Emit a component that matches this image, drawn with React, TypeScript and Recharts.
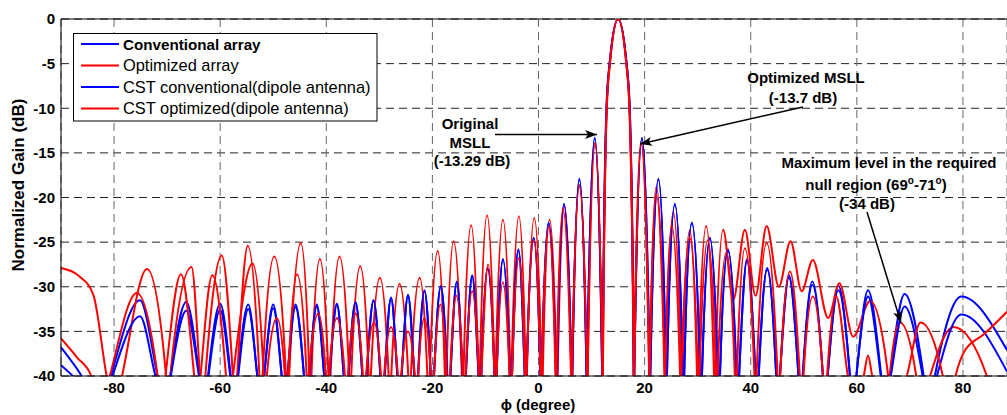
import React from 'react';
import { LineChart, Line, XAxis, YAxis, CartesianGrid, ReferenceLine } from 'recharts';

// phi (degree) / normalized gain (dB) pairs.
// Each deep null is kept as: -40 dB crossing, bottom of the null, -40 dB crossing.
const xTicks = [-80, -60, -40, -20, 0, 20, 40, 60, 80];
const yTicks = [-40, -35, -30, -25, -20, -15, -10, -5, 0];

const conventional: [number, number][] = [
  [-90, -36.8], [-86.1, -40], [-82.4, -44], [-80.6, -40],
  [-75.1, -31.5], [-71.8, -40], [-70.3, -44], [-69.4, -40],
  [-66.4, -31.7], [-63.9, -40], [-63.0, -44], [-62.3, -40],
  [-60.0, -31.9], [-58.0, -40], [-57.3, -44], [-56.7, -40],
  [-54.7, -32.0], [-53.0, -40], [-52.3, -44], [-51.7, -40],
  [-50.0, -32.0], [-48.4, -40], [-47.8, -44], [-47.3, -40],
  [-45.8, -32.0], [-44.2, -40], [-43.7, -44], [-43.2, -40],
  [-41.8, -32.0], [-40.4, -40], [-39.9, -44], [-39.4, -40],
  [-38.0, -31.9], [-36.7, -40], [-36.2, -44], [-35.8, -40],
  [-34.5, -31.7], [-33.2, -40], [-32.8, -44], [-32.4, -40],
  [-31.1, -31.5], [-29.8, -40], [-29.4, -44], [-29.0, -40],
  [-27.8, -31.2], [-26.6, -40], [-26.2, -44], [-25.8, -40],
  [-24.6, -30.9], [-23.4, -40], [-23.0, -44], [-22.7, -40],
  [-21.5, -30.4], [-20.3, -40], [-20.0, -44], [-19.7, -40],
  [-18.4, -29.9], [-17.2, -40], [-16.9, -44], [-16.6, -40],
  [-15.4, -29.4], [-14.3, -40], [-14.0, -44], [-13.7, -40],
  [-12.5, -28.7], [-11.3, -40], [-11.0, -44], [-10.8, -40],
  [-9.6, -27.9], [-8.3, -40], [-8.1, -44], [-7.9, -40],
  [-6.7, -26.9], [-5.4, -40], [-5.2, -44], [-5.0, -40],
  [-3.8, -25.8], [-2.6, -40], [-2.4, -44], [-2.25, -40],
  [-0.9, -24.5], [0.35, -40], [0.5, -44], [0.6, -40],
  [1.9, -22.8], [3.3, -40], [3.4, -44], [3.5, -40],
  [4.8, -20.7], [6.2, -40], [6.3, -44], [6.35, -40],
  [7.7, -17.9], [9.05, -40], [9.1, -44], [9.15, -40],
  [10.6, -13.3], [12.0, -40], [12.05, -44], [12.08, -40],
  [12.8, -10.2], [13.4, -5.0], [15, 0], [16.6, -5.0], [17.2, -10.2],
  [17.96, -40], [18.0, -44], [18.05, -40],
  [19.5, -13.3], [20.95, -40], [21.0, -44], [21.07, -40],
  [22.6, -17.9], [24.03, -40], [24.1, -44], [24.2, -40],
  [25.7, -20.7], [27.2, -40], [27.3, -44], [27.45, -40],
  [28.9, -22.8], [30.45, -40], [30.6, -44], [30.8, -40],
  [32.3, -24.5], [33.8, -40], [34.0, -44], [34.2, -40],
  [35.7, -25.8], [37.3, -40], [37.5, -44], [37.8, -40],
  [39.3, -26.9], [40.9, -40], [41.2, -44], [41.5, -40],
  [43.1, -27.9], [44.8, -40], [45.1, -44], [45.5, -40],
  [47.2, -28.7], [49.0, -40], [49.4, -44], [49.8, -40],
  [51.6, -29.4], [53.6, -40], [54.0, -44], [54.5, -40],
  [56.5, -29.9], [58.7, -40], [59.2, -44], [59.9, -40],
  [62.1, -30.4], [64.6, -40], [65.3, -44], [66.2, -40],
  [69.0, -30.8], [72.6, -40], [73.5, -44], [74.7, -40],
  [79.7, -31.1], [88.3, -37.1],
];

const optimized: [number, number][] = [
  [-90, -27.9], [-86.4, -28.9], [-83.9, -30.9], [-81.4, -40], [-80.0, -44], [-78.5, -40],
  [-73.8, -28.0], [-70.2, -40], [-69.8, -44], [-69.4, -40],
  [-65.4, -27.8], [-63.8, -40], [-63.3, -44], [-62.8, -40],
  [-59.7, -26.5], [-57.6, -40], [-57.2, -44], [-56.8, -40],
  [-54.8, -25.4], [-52.6, -40], [-52.3, -44], [-52.0, -40],
  [-49.8, -26.6], [-47.6, -40], [-47.3, -44], [-47.0, -40],
  [-44.8, -25.1], [-43.2, -40], [-43.0, -44], [-42.8, -40],
  [-41.2, -26.9], [-39.6, -40], [-39.4, -44], [-39.2, -40],
  [-37.5, -26.6], [-35.7, -40], [-35.5, -44], [-35.3, -40],
  [-33.6, -27.7], [-32.0, -40], [-31.8, -44], [-31.6, -40],
  [-29.9, -29.0], [-28.25, -40], [-28.0, -44], [-27.75, -40],
  [-26.2, -29.7], [-24.55, -40], [-24.3, -44], [-24.05, -40],
  [-22.4, -29.0], [-20.95, -40], [-20.7, -44], [-20.5, -40],
  [-19.0, -26.0], [-17.65, -40], [-17.5, -44], [-17.35, -40],
  [-16.0, -24.9], [-14.45, -40], [-14.3, -44], [-14.15, -40],
  [-12.7, -23.1], [-11.32, -40], [-11.2, -44], [-11.08, -40],
  [-9.7, -22.0], [-8.3, -40], [-8.2, -44], [-8.1, -40],
  [-6.7, -22.5], [-5.3, -40], [-5.2, -44], [-5.1, -40],
  [-3.7, -22.1], [-2.4, -40], [-2.3, -44], [-2.2, -40],
  [-0.8, -22.3], [0.6, -40], [0.7, -44], [0.8, -40],
  [2.1, -22.5], [3.4, -40], [3.5, -44], [3.6, -40],
  [4.9, -21.0], [6.22, -40], [6.3, -44], [6.38, -40],
  [7.7, -18.6], [9.14, -40], [9.2, -44], [9.26, -40],
  [10.6, -13.9], [12.06, -40], [12.1, -44], [12.13, -40],
  [12.85, -10.2], [13.45, -5.0], [15, 0], [16.55, -5.0], [17.15, -10.2],
  [17.92, -40], [17.95, -44], [17.99, -40],
  [19.3, -13.8], [20.86, -40], [20.9, -44], [20.95, -40],
  [22.2, -18.8], [23.83, -40], [23.9, -44], [23.98, -40],
  [25.4, -21.7], [26.9, -40], [27.0, -44], [27.1, -40],
  [28.5, -23.7], [29.88, -40], [30.0, -44], [30.12, -40],
  [31.6, -23.2], [33.08, -40], [33.2, -44], [33.32, -40],
  [34.8, -23.6], [36.7, -31.5], [38.9, -23.6], [40.9, -31.0], [43.0, -23.2], [45.3, -30.0],
  [47.5, -24.9], [49.6, -30.5], [51.7, -27.0], [54.6, -33.5], [56.7, -29.6], [59.3, -35.6],
  [62.5, -31.6], [65.9, -40], [66.05, -44], [66.2, -40],
  [68.1, -34.0], [71.2, -40], [72.0, -44], [73.8, -40],
  [78.2, -34.5], [84.5, -40], [86.5, -44], [88.3, -43],
];

const cstConventional: [number, number][] = [
  [-90, -38.8], [-87.8, -40], [-82.4, -44], [-80.3, -40],
  [-75.1, -33.3], [-72.2, -40], [-70.3, -44], [-69.3, -40],
  [-66.4, -32.7], [-64.0, -40], [-63.0, -44], [-62.2, -40],
  [-60.0, -32.6], [-58.1, -40], [-57.3, -44], [-56.6, -40],
  [-54.7, -32.5], [-53.0, -40], [-52.3, -44], [-51.7, -40],
  [-50.0, -32.4], [-48.4, -40], [-47.8, -44], [-47.3, -40],
  [-45.8, -32.3], [-44.2, -40], [-43.7, -44], [-43.2, -40],
  [-41.8, -32.2], [-40.4, -40], [-39.9, -44], [-39.4, -40],
  [-38.0, -32.0], [-36.7, -40], [-36.2, -44], [-35.8, -40],
  [-34.5, -31.8], [-33.2, -40], [-32.8, -44], [-32.4, -40],
  [-31.1, -31.6], [-29.8, -40], [-29.4, -44], [-29.0, -40],
  [-27.8, -31.3], [-26.6, -40], [-26.2, -44], [-25.8, -40],
  [-24.6, -31.0], [-23.4, -40], [-23.0, -44], [-22.7, -40],
  [-21.5, -30.5], [-20.3, -40], [-20.0, -44], [-19.7, -40],
  [-18.4, -30.0], [-17.2, -40], [-16.9, -44], [-16.6, -40],
  [-15.4, -29.5], [-14.3, -40], [-14.0, -44], [-13.7, -40],
  [-12.5, -28.8], [-11.3, -40], [-11.0, -44], [-10.8, -40],
  [-9.6, -28.0], [-8.3, -40], [-8.1, -44], [-7.9, -40],
  [-6.7, -27.0], [-5.4, -40], [-5.2, -44], [-5.0, -40],
  [-3.8, -25.9], [-2.6, -40], [-2.4, -44], [-2.25, -40],
  [-0.9, -24.6], [0.35, -40], [0.5, -44], [0.6, -40],
  [1.9, -22.9], [3.3, -40], [3.4, -44], [3.5, -40],
  [4.8, -20.8], [6.2, -40], [6.3, -44], [6.35, -40],
  [7.7, -18.0], [9.05, -40], [9.1, -44], [9.15, -40],
  [10.6, -13.4], [12.0, -40], [12.05, -44], [12.08, -40],
  [12.8, -10.2], [13.4, -5.0], [15, 0], [16.6, -5.0], [17.2, -10.2],
  [17.96, -40], [18.0, -44], [18.05, -40],
  [19.5, -13.4], [20.95, -40], [21.0, -44], [21.07, -40],
  [22.6, -18.0], [24.03, -40], [24.1, -44], [24.2, -40],
  [25.7, -20.8], [27.2, -40], [27.3, -44], [27.45, -40],
  [28.9, -22.9], [30.45, -40], [30.6, -44], [30.8, -40],
  [32.3, -24.6], [33.8, -40], [34.0, -44], [34.2, -40],
  [35.7, -26.0], [37.3, -40], [37.5, -44], [37.8, -40],
  [39.3, -27.1], [40.9, -40], [41.2, -44], [41.5, -40],
  [43.1, -28.1], [44.8, -40], [45.1, -44], [45.5, -40],
  [47.2, -29.0], [49.0, -40], [49.4, -44], [49.8, -40],
  [51.6, -29.8], [53.6, -40], [54.0, -44], [54.5, -40],
  [56.5, -30.4], [58.7, -40], [59.2, -44], [59.9, -40],
  [62.1, -31.1], [64.5, -40], [65.3, -44], [66.4, -40],
  [69.0, -32.2], [72.4, -40], [73.5, -44], [75.1, -40],
  [79.7, -33.1], [88.3, -39.5],
];

const cstOptimized: [number, number][] = [
  [-90, -35.8], [-87.0, -37.9], [-84.3, -40], [-82.5, -44], [-80.8, -40],
  [-75.7, -30.7], [-71.8, -40], [-71.0, -44], [-70.3, -40],
  [-67.4, -28.6], [-64.9, -40], [-64.3, -44], [-63.7, -40],
  [-61.5, -28.7], [-58.9, -40], [-58.4, -44], [-57.6, -40],
  [-53.9, -27.4], [-51.8, -40], [-51.5, -44], [-51.2, -40],
  [-49.3, -33.5], [-47.8, -40], [-47.5, -44], [-47.2, -40],
  [-45.5, -28.6], [-43.7, -40], [-43.5, -44], [-43.3, -40],
  [-41.5, -33.0], [-40.1, -40], [-39.8, -44], [-39.5, -40],
  [-38.0, -33.5], [-36.5, -40], [-36.2, -44], [-35.9, -40],
  [-34.5, -33.0], [-33.1, -40], [-32.8, -44], [-32.5, -40],
  [-31.0, -34.0], [-29.7, -40], [-29.4, -44], [-29.1, -40],
  [-27.8, -34.5], [-26.5, -40], [-26.2, -44], [-25.9, -40],
  [-24.6, -35.0], [-23.3, -40], [-23.0, -44], [-22.7, -40],
  [-21.5, -33.5], [-20.3, -40], [-20.0, -44], [-19.7, -40],
  [-18.5, -32.0], [-17.3, -40], [-17.0, -44], [-16.7, -40],
  [-15.5, -31.0], [-14.25, -40], [-14.0, -44], [-13.75, -40],
  [-12.5, -30.5], [-11.25, -40], [-11.0, -44], [-10.75, -40],
  [-9.5, -27.5], [-8.3, -40], [-8.1, -44], [-7.9, -40],
  [-6.7, -29.5], [-5.45, -40], [-5.2, -44], [-5.0, -40],
  [-3.7, -26.8], [-2.55, -40], [-2.4, -44], [-2.25, -40],
  [-0.9, -24.8], [0.38, -40], [0.5, -44], [0.62, -40],
  [1.9, -23.3], [3.2, -40], [3.3, -44], [3.4, -40],
  [4.6, -21.3], [6.12, -40], [6.2, -44], [6.28, -40],
  [7.7, -18.8], [9.14, -40], [9.2, -44], [9.26, -40],
  [10.7, -14.0], [12.06, -40], [12.1, -44], [12.13, -40],
  [12.85, -10.2], [13.45, -5.0], [15, 0], [16.55, -5.0], [17.15, -10.2],
  [17.96, -40], [18.0, -44], [18.04, -40],
  [19.4, -14.0], [20.86, -40], [20.9, -44], [20.95, -40],
  [22.2, -19.7], [23.73, -40], [23.8, -44], [23.88, -40],
  [25.1, -23.2], [26.68, -40], [26.8, -44], [26.92, -40],
  [28.5, -24.5], [30.05, -40], [30.2, -44], [30.35, -40],
  [31.9, -24.8], [33.45, -40], [33.6, -44], [33.75, -40],
  [35.4, -26.2], [37.0, -40], [37.2, -44], [37.4, -40],
  [38.9, -25.7], [40.7, -40], [40.9, -44], [41.1, -40],
  [43.0, -25.1], [45.05, -40], [45.3, -44], [45.55, -40],
  [47.4, -28.3], [49.25, -40], [49.6, -44], [49.95, -40],
  [51.7, -31.1], [53.6, -40], [54.0, -44], [54.4, -40],
  [56.1, -31.1], [58.3, -40], [59.5, -44], [61.3, -40],
  [62.1, -37.7], [62.9, -40], [66.0, -44], [69.4, -40],
  [72.0, -34.0], [76.2, -40], [77.3, -44], [78.6, -40],
  [80.3, -37.2], [84.0, -35.3], [88.3, -32.8],
];

const series = [
  { name: 'Conventional array', color: '#0000ff', points: conventional, bold: true },
  { name: 'Optimized array', color: '#ff0000', points: optimized, bold: false },
  { name: 'CST conventional(dipole antenna)', color: '#0000ff', points: cstConventional, bold: false },
  { name: 'CST optimized(dipole antenna)', color: '#ff0000', points: cstOptimized, bold: false },
];

const font = "'Liberation Sans', Arial, Helvetica, sans-serif";
const toRows = (pts: [number, number][]) => pts.map(([x, y]) => ({ x, y }));

const Overlay = () => {
  const rows = [44, 65.5, 87, 108.5];
  return (
    <svg width={1007} height={415} style={{ position: 'absolute', left: 0, top: 0, pointerEvents: 'none' }}
      fontFamily={font}>
      <defs>
        <marker id="head" markerUnits="userSpaceOnUse" markerWidth={13} markerHeight={9} refX={12} refY={4.5} orient="auto">
          <path d="M0,0 L12,4.5 L0,9 L3,4.5 z" fill="#000" />
        </marker>
      </defs>
      {/* legend */}
      <rect x={73.5} y={33.5} width={303.5} height={87.5} fill="#fff" stroke="#000" strokeWidth={1} />
      {series.map((s, i) => (
        <g key={s.name}>
          <line x1={81} x2={119} y1={rows[i]} y2={rows[i]} stroke={s.color} strokeWidth={2} />
          <text x={123} y={rows[i] + 5.5} fontSize={s.bold ? 15.2 : 16.4} fontWeight={s.bold ? 'bold' : 'normal'} fill="#000">
            {s.name}
          </text>
        </g>
      ))}
      {/* annotations */}
      <g fontSize={15} fontWeight="bold" fill="#000" textAnchor="middle">
        <text x={470} y={129}>Original</text>
        <text x={470} y={148}>MSLL</text>
        <text x={472} y={166}>(-13.29 dB)</text>
        <text x={806} y={83}>Optimized MSLL</text>
        <text x={803} y={103}>(-13.7 dB)</text>
        <text x={889} y={168}>Maximum level in the required</text>
        <text x={876} y={190}>
          null region (69<tspan dy={-6} fontSize={10}>o</tspan><tspan dy={6}>-71</tspan>
          <tspan dy={-6} fontSize={10}>o</tspan><tspan dy={6}>)</tspan>
        </text>
        <text x={867} y={209}>(-34 dB)</text>
        <text x={538} y={410}>ϕ (degree)</text>
        <text transform="translate(24,185) rotate(-90)" fontSize={17}>Normalized Gain (dB)</text>
      </g>
      <g stroke="#000" strokeWidth={1.5}>
        <line x1={495} y1={134.5} x2={597} y2={134.5} markerEnd="url(#head)" />
        <line x1={803} y1={107} x2={640} y2={144} markerEnd="url(#head)" />
        <line x1={867} y1={212} x2={901} y2={323} markerEnd="url(#head)" />
      </g>
    </svg>
  );
};

export default function App() {
  const tick = { fontSize: 15, fontWeight: 'bold', fill: '#000', fontFamily: font };
  return (
    <div style={{ position: 'absolute', left: 0, top: 0, width: 1007, height: 415, overflow: 'hidden', background: '#fff' }}>
      <LineChart width={1007} height={415} margin={{ top: 19, right: 0, bottom: 0, left: 0 }}>
        <CartesianGrid horizontal={true} vertical={false} stroke="#222" strokeDasharray="8 5" />
        <CartesianGrid horizontal={false} vertical={true} stroke="#666" strokeDasharray="8 5" />
        <XAxis type="number" dataKey="x" domain={[-90, 88.3]} allowDataOverflow ticks={xTicks}
          height={39} tick={tick} tickLine={false} tickSize={0} tickMargin={6} axisLine={{ stroke: '#000' }} />
        <YAxis type="number" dataKey="y" domain={[-40, 0]} allowDataOverflow ticks={yTicks}
          width={61} tick={tick} tickLine={false} tickSize={0} tickMargin={6} axisLine={{ stroke: '#000' }} />
        <ReferenceLine y={0} stroke="#000" strokeWidth={1} />
        {series.map((s) => (
          <Line key={s.name} data={toRows(s.points)} dataKey="y" name={s.name} type="monotone"
            stroke={s.color} strokeWidth={2} dot={false} activeDot={false} isAnimationActive={false} />
        ))}
      </LineChart>
      <Overlay />
    </div>
  );
}
